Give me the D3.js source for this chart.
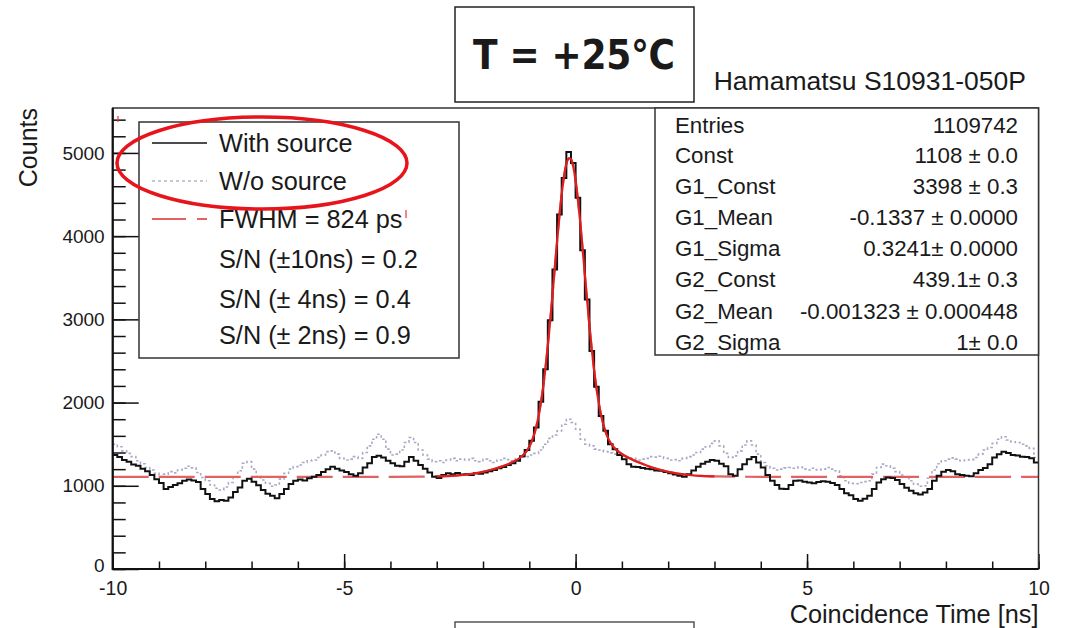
<!DOCTYPE html>
<html>
<head>
<meta charset="utf-8">
<script src="https://cdn.jsdelivr.net/npm/d3@7"></script>
<style>
  body { margin: 0; background: #fff; }
  text { font-family: "Liberation Sans", Arial, Helvetica, sans-serif; fill: #1a1a1a; }
</style>
</head>
<body>
<div id="chart"></div>
<script>
/* coincidence time spectrum, with / without source + fit */

// bins of 0.1 ns from -10 to 10 (value = counts in bin)
const binStart = -10, binWidth = 0.1;

const withSource = [
  1370,1345,1310,1290,1255,1240,1205,1175,1130,1080,
  1035,960,985,1010,1030,1060,1075,1065,1045,960,
  900,840,815,830,820,860,925,980,1060,1085,
  1050,1005,950,905,880,850,900,960,1020,1060,
  1075,1065,1090,1110,1130,1165,1200,1230,1205,1185,
  1165,1140,1120,1150,1220,1270,1345,1360,1340,1300,
  1270,1240,1235,1290,1345,1300,1250,1205,1160,1110,
  1095,1130,1150,1140,1155,1135,1140,1130,1150,1145,
  1160,1175,1190,1210,1225,1250,1270,1300,1355,1430,
  1540,1700,2010,2400,2990,3600,4260,4700,5010,4880,
  4460,3830,3240,2620,2190,1840,1660,1500,1440,1370,
  1320,1260,1230,1225,1215,1205,1200,1185,1180,1165,
  1150,1135,1120,1110,1140,1185,1230,1265,1290,1310,
  1300,1265,1235,1140,1120,1200,1260,1320,1345,1280,
  1220,1130,1060,1010,965,960,1010,1060,1065,1050,
  1040,1030,1045,1055,1050,1035,1010,960,910,885,
  840,820,845,880,960,1040,1080,1100,1095,1070,
  1020,975,940,910,895,920,960,1060,1120,1170,
  1190,1175,1140,1130,1120,1115,1150,1190,1215,1260,
  1340,1380,1410,1395,1370,1365,1350,1345,1330,1280
];

const withoutSource = [
  1500,1470,1420,1390,1350,1300,1265,1220,1190,1150,
  1110,1140,1170,1155,1190,1210,1235,1215,1160,1100,
  1060,1010,970,950,985,1040,1100,1180,1270,1290,
  1200,1110,1070,1030,995,1010,1080,1150,1200,1230,
  1250,1280,1300,1310,1340,1370,1410,1420,1380,1330,
  1310,1320,1350,1330,1400,1480,1560,1620,1560,1440,
  1370,1380,1430,1520,1580,1520,1430,1370,1320,1290,
  1300,1280,1310,1330,1300,1320,1310,1330,1300,1290,
  1320,1300,1280,1310,1330,1315,1300,1330,1345,1350,
  1370,1390,1430,1500,1570,1610,1660,1740,1800,1760,
  1680,1560,1500,1480,1440,1430,1410,1395,1380,1370,
  1360,1345,1330,1310,1320,1330,1350,1345,1355,1330,
  1310,1315,1300,1330,1350,1370,1400,1440,1470,1510,
  1540,1480,1390,1340,1360,1420,1490,1540,1490,1380,
  1280,1240,1210,1190,1200,1215,1220,1210,1225,1200,
  1190,1210,1190,1200,1220,1200,1180,1120,1060,1030,
  1025,1040,1050,1060,1140,1220,1260,1240,1210,1170,
  1130,1105,1060,1020,995,1000,1090,1190,1265,1300,
  1320,1335,1320,1300,1310,1315,1340,1380,1430,1460,
  1510,1560,1590,1550,1530,1520,1500,1480,1450,1340
];

// fit curve
const fitT = [-3.0,-2.8,-2.6,-2.4,-2.2,-2.0,-1.8,-1.6,-1.4,-1.2,-1.1,-1.0,
  -0.95,-0.9,-0.85,-0.8,-0.75,-0.7,-0.65,-0.6,-0.55,-0.5,-0.45,-0.4,-0.35,-0.3,-0.25,-0.2,-0.15,-0.1,-0.05,
  0,0.05,0.1,0.15,0.2,0.25,0.3,0.35,0.4,0.45,0.5,0.55,0.6,0.65,0.7,0.75,0.8,0.85,0.9,
  1.0,1.1,1.2,1.4,1.6,1.8,2.0,2.2,2.4,2.6,2.8,3.0];
const fitCounts = [1113,1117,1123,1133,1147,1167,1195,1230,1274,1337,1388,1470,
  1530,1608,1710,1838,1997,2190,2419,2683,2975,3290,3616,3938,4241,4507,4720,4866,4936,4925,4833,
  4668,4440,4165,3859,3538,3220,2916,2638,2389,2176,1998,1852,1737,1646,1576,1522,1480,1448,1422,
  1382,1350,1322,1273,1230,1195,1167,1147,1133,1123,1117,1113];
const fitConst = 1108;

const legendLabels = ["With source", "W/o source", "FWHM = 824 ps",
  "S/N (\u00b110ns) = 0.2", "S/N (\u00b1 4ns) = 0.4", "S/N (\u00b1 2ns) = 0.9"];

const statNames = ["Entries", "Const", "G1_Const", "G1_Mean", "G1_Sigma", "G2_Const", "G2_Mean", "G2_Sigma"];
const statValues = ["1109742", "1108 \u00b1 0.0", "3398 \u00b1 0.3", "-0.1337 \u00b1 0.0000",
  "0.3241\u00b1 0.0000", "439.1\u00b1 0.3", "-0.001323 \u00b1 0.000448", "1\u00b1 0.0"];

const xMajor = [-10, -5, 0, 5, 10];
const yMajor = [0, 1000, 2000, 3000, 4000, 5000];

let width = 1066, height = 628,
    margin = ({ top: 108, right: 27.5, bottom: 59, left: 112.7 });

const svg = d3.select("#chart")
  .append("svg")
  .attr("width", width)
  .attr("height", height);

let x = d3.scaleLinear()
  .domain([-10, 10])
  .range([margin.left, width - margin.right]);

let y = d3.scaleLinear()
  .domain([0, 5540])
  .range([height - margin.bottom, margin.top]);

let x0 = x.range()[0], x1 = x.range()[1], y0 = y.range()[0], y1 = y.range()[1];

// title box + device label
svg.append("rect")
  .attr("x", 455).attr("y", 7).attr("width", 239).attr("height", 95)
  .attr("fill", "none").attr("stroke", "#222").attr("stroke-width", 1.5);
svg.append("text")
  .text("T = +25\u00b0C")
  .attr("x", 473).attr("y", 69)
  .attr("textLength", 202).attr("lengthAdjust", "spacing")
  .style("font-family", "'DejaVu Sans Condensed', 'DejaVu Sans', sans-serif")
  .style("font-weight", "bold").style("font-size", "40px").attr("fill", "#111");
svg.append("text")
  .text("Hamamatsu S10931-050P")
  .attr("x", 1026).attr("y", 90).attr("text-anchor", "end")
  .style("font-size", "26.5px");

// bottom box (cut off)
svg.append("path")
  .attr("d", "M455,630V622H694V630")
  .attr("fill", "none").attr("stroke", "#555").attr("stroke-width", 1.5);

// histograms as steps
let hist = d3.line()
  .x(d => x(d[0]))
  .y(d => y(d[1]))
  .curve(d3.curveStepAfter);

function steps(vals) {
  let pts = vals.map((v, i) => [binStart + i * binWidth, v]);
  pts.push([binStart + vals.length * binWidth, vals[vals.length - 1]]);
  return pts;
}

svg.append("path")
  .datum(steps(withoutSource))
  .attr("fill", "none")
  .attr("stroke", "#a9a9c4")
  .attr("stroke-width", 1.6)
  .attr("stroke-dasharray", "2.5,2.5")
  .attr("d", hist);

let fitLine = d3.line()
  .x(d => x(d[0]))
  .y(d => y(d[1]))
  .curve(d3.curveMonotoneX);

let fitPts = fitT.map((t, i) => [t, fitCounts[i]]);

// dashed extension over full range
svg.append("path")
  .datum([[-10, fitConst], [-4, fitConst]].concat(fitPts, [[4, fitConst], [10, fitConst]]))
  .attr("fill", "none")
  .attr("stroke", "#e06262")
  .attr("stroke-width", 2.2)
  .attr("stroke-dasharray", "36,10")
  .attr("d", fitLine);

svg.append("path")
  .datum(steps(withSource))
  .attr("fill", "none")
  .attr("stroke", "#111")
  .attr("stroke-width", 2)
  .attr("d", hist);

svg.append("path")
  .datum(fitPts)
  .attr("fill", "none")
  .attr("stroke", "#e01e1e")
  .attr("stroke-width", 2.2)
  .attr("d", fitLine);

// axes with ROOT-style inward ticks
let yMinor = d3.range(0, 5540, 200);
svg.append("g")
  .attr("transform", `translate(${x0},0)`)
  .call(d3.axisLeft(y).tickValues(yMinor).tickSize(-13).tickFormat(""))
  .call(g => g.select(".domain").remove());
svg.append("g")
  .attr("transform", `translate(${x0},0)`)
  .call(d3.axisLeft(y).tickValues(yMajor).tickSize(-26).tickPadding(8).tickFormat(d3.format("d")))
  .call(g => g.select(".domain").remove())
  .call(g => g.selectAll("text").style("font-size", "19px").style("font-family", null)
    .attr("dy", (d) => d === 0 ? "0.15em" : "0.32em"));

svg.append("g")
  .attr("transform", `translate(0,${y0})`)
  .call(d3.axisBottom(x).tickValues(d3.range(-10, 11, 1)).tickSize(-7.5).tickFormat(""))
  .call(g => g.select(".domain").remove());
svg.append("g")
  .attr("transform", `translate(0,${y0})`)
  .call(d3.axisBottom(x).tickValues(xMajor).tickSize(-15).tickPadding(12).tickFormat(d => String(d)))
  .call(g => g.select(".domain").remove())
  .call(g => g.selectAll("text").style("font-size", "19.5px").style("font-family", null));

svg.selectAll(".tick line").attr("stroke", "#111").attr("stroke-width", 1.5);

// frame
svg.append("rect")
  .attr("x", x0).attr("y", y1).attr("width", x1 - x0).attr("height", y0 - y1)
  .attr("fill", "none").attr("stroke", "#333").attr("stroke-width", 1.5);
svg.append("path")
  .attr("d", `M${x0},${y1}V${y0}H${x1}`)
  .attr("fill", "none").attr("stroke", "#111").attr("stroke-width", 2.2);

svg.append("text")
  .text("Coincidence Time [ns]")
  .attr("x", x1).attr("y", 623).attr("text-anchor", "end")
  .style("font-size", "25.3px");
svg.append("text")
  .text("Counts")
  .attr("transform", `translate(37,${y1}) rotate(-90)`)
  .attr("text-anchor", "end")
  .style("font-size", "25px");

// legend
let leg = svg.append("g");
leg.append("rect")
  .attr("x", 139).attr("y", 122).attr("width", 320).attr("height", 236)
  .attr("fill", "#fff").attr("stroke", "#333").attr("stroke-width", 1.5);
let legY = [143, 181, 219, 259, 299, 335];
leg.selectAll("text.lab")
  .data(legendLabels)
  .join("text")
  .attr("class", "lab")
  .attr("x", 219)
  .attr("y", (d, i) => legY[i] + 9)
  .style("font-size", "25.3px")
  .text(d => d);
leg.append("line").attr("x1", 152).attr("x2", 207).attr("y1", legY[0]).attr("y2", legY[0])
  .attr("stroke", "#111").attr("stroke-width", 1.5);
leg.append("line").attr("x1", 152).attr("x2", 207).attr("y1", legY[1]).attr("y2", legY[1])
  .attr("stroke", "#b4b4c8").attr("stroke-width", 1.5).attr("stroke-dasharray", "3,3");
leg.append("line").attr("x1", 152).attr("x2", 207).attr("y1", legY[2]).attr("y2", legY[2])
  .attr("stroke", "#e06262").attr("stroke-width", 1.8).attr("stroke-dasharray", "34,11");

// stats box
let stats = svg.append("g");
stats.append("rect")
  .attr("x", 655).attr("y", y1).attr("width", x1 - 655).attr("height", 247)
  .attr("fill", "#fff").attr("stroke", "#333").attr("stroke-width", 1.5);
let statY = [125, 155, 186, 217, 248, 279, 311, 342];
stats.selectAll("text.name")
  .data(statNames)
  .join("text")
  .attr("class", "name")
  .attr("x", 675).attr("y", (d, i) => statY[i] + 8)
  .style("font-size", "22.3px")
  .text(d => d);
stats.selectAll("text.val")
  .data(statValues)
  .join("text")
  .attr("class", "val")
  .attr("x", 1018).attr("y", (d, i) => statY[i] + 8)
  .attr("text-anchor", "end")
  .style("font-size", "22.3px")
  .text(d => d);

// hand-drawn red ellipse around the first two legend entries
svg.append("ellipse")
  .attr("cx", 262).attr("cy", 163).attr("rx", 145).attr("ry", 46)
  .attr("fill", "none").attr("stroke", "#e8141c").attr("stroke-width", 3.5);

// small red marks in the original
svg.append("line").attr("x1", 118).attr("x2", 118).attr("y1", 116).attr("y2", 122)
  .attr("stroke", "#e33").attr("stroke-width", 1.2);
svg.append("line").attr("x1", 406).attr("x2", 406).attr("y1", 210).attr("y2", 218)
  .attr("stroke", "#e33").attr("stroke-width", 1.2);
</script>
</body>
</html>
